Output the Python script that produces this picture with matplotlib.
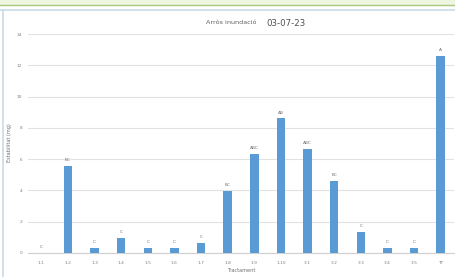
import matplotlib
matplotlib.use("Agg")
import matplotlib.pyplot as plt
from matplotlib.lines import Line2D
from matplotlib.patches import Rectangle

categories = ["1.1", "1.2", "1.3", "1.4", "1.5", "1.6", "1.7", "1.8", "1.9", "1.10",
              "3.1", "3.2", "3.3", "3.4", "3.5", "TT"]
values = [0.0, 5.56, 0.3, 0.98, 0.3, 0.3, 0.66, 3.96, 6.31, 8.6,
          6.63, 4.62, 1.32, 0.3, 0.3, 12.6]
letters = ["C", "BC", "C", "C", "C", "C", "C", "BC", "ABC", "AB",
           "ABC", "BC", "C", "C", "C", "A"]
yticks = [0, 2, 4, 6, 8, 10, 12, 14]

fig = plt.figure(figsize=(4.55, 2.77), dpi=100)
fig.patch.set_facecolor("white")

# top strip
fig.patches.append(Rectangle((0, 1 - 5/277), 1, 5/277, transform=fig.transFigure,
                             facecolor="#eef5e0", edgecolor="none", zorder=0))
fig.lines.append(Line2D([0, 1], [1 - 5/277, 1 - 5/277], transform=fig.transFigure,
                        color="#a9c97f", lw=1.0))
fig.lines.append(Line2D([0, 1], [1 - 10/277, 1 - 10/277], transform=fig.transFigure,
                        color="#c9dbe5", lw=1.2))
fig.lines.append(Line2D([3/455, 3/455], [0, 1 - 10/277], transform=fig.transFigure,
                        color="#c9dbe5", lw=1.2))

ax = fig.add_axes([28/455, 24/277, 426/455, 219/277])
x = list(range(len(categories)))
ax.bar(x, values, width=0.32, color="#5b9bd5", zorder=3)
ax.set_xlim(-0.5, len(categories) - 0.5)
ax.set_ylim(0, 14)
ax.set_yticks(yticks)
ax.set_xticks(x)
ax.set_xticklabels(categories)
ax.tick_params(axis="both", labelsize=3.2, colors="#808080", length=0, pad=6)
ax.tick_params(axis="y", pad=4)
ax.grid(axis="y", color="#e2e2e2", lw=0.8, zorder=0)
for s in ["top", "right", "left"]:
    ax.spines[s].set_visible(False)
ax.spines["bottom"].set_color("#d0d0d0")
ax.spines["bottom"].set_linewidth(0.8)

for xi, v, t in zip(x, values, letters):
    ax.text(xi, v + 0.25, t, ha="center", va="bottom", fontsize=3.2, color="#707070")

ax.set_xlabel("Tractament", fontsize=3.6, color="#707070", labelpad=2)
fig.text(10/455, 1 - 143/277, "Estabilitat (mg)", rotation=90, ha="center", va="center",
         fontsize=3.6, color="#707070")

fig.text(256/455, 1 - 23/277, "Arròs inundació", ha="right", va="center",
         fontsize=4.6, color="#606060")
fig.text(266/455, 1 - 23/277, "03-07-23", ha="left", va="center",
         fontsize=6.2, color="#505050")

fig.savefig("out.png", dpi=100)
